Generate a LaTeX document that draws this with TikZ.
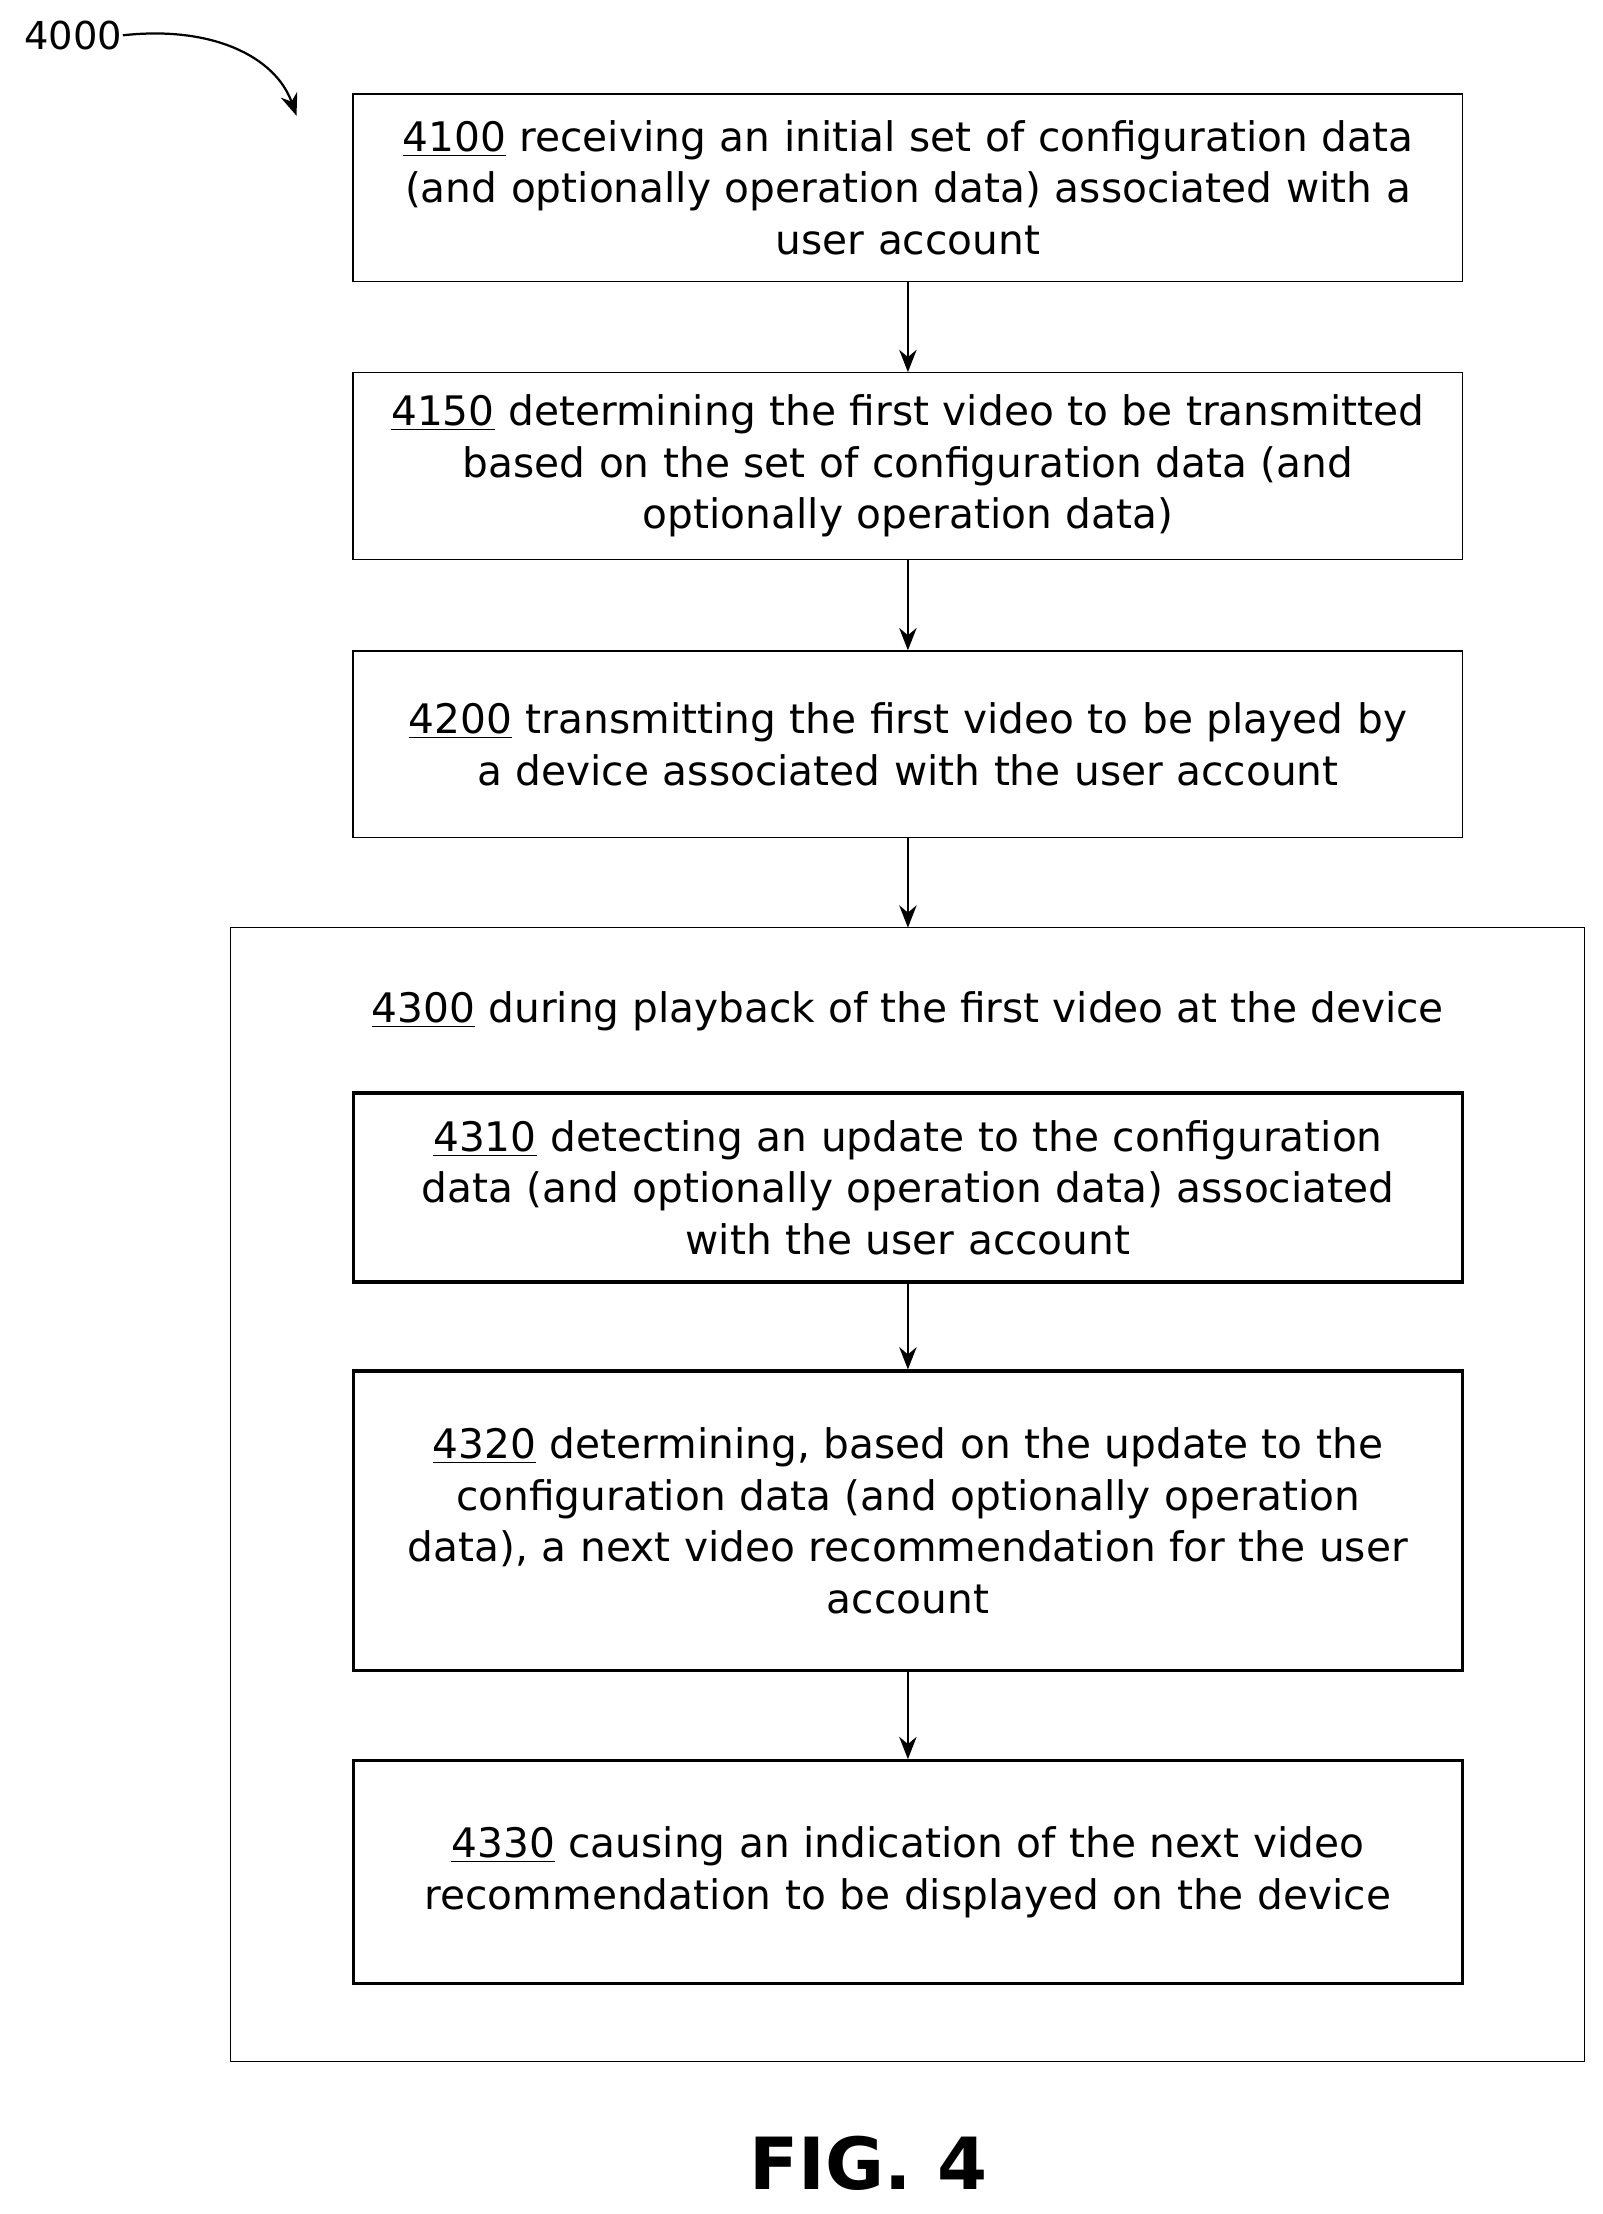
\documentclass[tikz,border=0pt]{standalone}
\usepackage{fontspec}
\setmainfont{DejaVu Sans}
\usetikzlibrary{shapes,arrows.meta,positioning,calc}

\tikzset{
  stepbox/.style={draw, line width=0.5pt, minimum width=15.72cm, text width=15.6cm, align=center, font=\fontsize{16.4}{20.8}\selectfont, inner sep=0pt},
  subbox/.style={stepbox, line width=1.3pt},
  flow/.style={-{Stealth[length=9pt,width=7pt]}, line width=0.9pt}
}

\begin{document}
\begin{tikzpicture}[x=0.02cm,y=-0.02cm]
\useasboundingbox (0,0) rectangle (1135,1568);

% Label and pointer
\node[font=\fontsize{15.5}{18}\selectfont, inner sep=0pt] (lbl) at (52,25) {4000};
\coordinate (tip) at (210,82);
\draw[flow] (lbl.east) .. controls (150,18) and (195,40) .. (tip);

% Main steps
\node[stepbox, minimum height=2.66cm] (s4100) at (643,133) {\underline{4100} receiving an initial set of configuration data\\ (and optionally operation data) associated with a\\ user account};
\node[stepbox, minimum height=2.64cm] (s4150) at (643,330) {\underline{4150} determining the first video to be transmitted\\ based on the set of configuration data (and\\ optionally operation data)};
\node[stepbox, minimum height=2.64cm] (s4200) at (643,527) {\underline{4200} transmitting the first video to be played by\\ a device associated with the user account};

% Playback group
\draw[line width=0.5pt] (163,657) rectangle (1122,1460);
\coordinate (grp) at (643,657);
\node[font=\fontsize{16.4}{20.8}\selectfont, inner sep=0pt] (t4300) at (643,716) {\underline{4300} during playback of the first video at the device};

\node[subbox, minimum height=2.68cm] (s4310) at (643,841) {\underline{4310} detecting an update to the configuration\\ data (and optionally operation data) associated\\ with the user account};
\node[subbox, minimum height=4.24cm] (s4320) at (643,1077) {\underline{4320} determining, based on the update to the\\ configuration data (and optionally operation\\ data), a next video recommendation for the user\\ account};
\node[subbox, minimum height=3.16cm] (s4330) at (643,1326) {\underline{4330} causing an indication of the next video\\ recommendation to be displayed on the device};

% Connectors
\draw[flow] (s4100) -- (s4150);
\draw[flow] (s4150) -- (s4200);
\draw[flow] (s4200) -- (grp);
\draw[flow] (s4310) -- (s4320);
\draw[flow] (s4320) -- (s4330);

% Figure caption
\node[font=\fontsize{29}{34}\selectfont\bfseries] (fig) at (615,1532) {FIG. 4};
\end{tikzpicture}
\end{document}
